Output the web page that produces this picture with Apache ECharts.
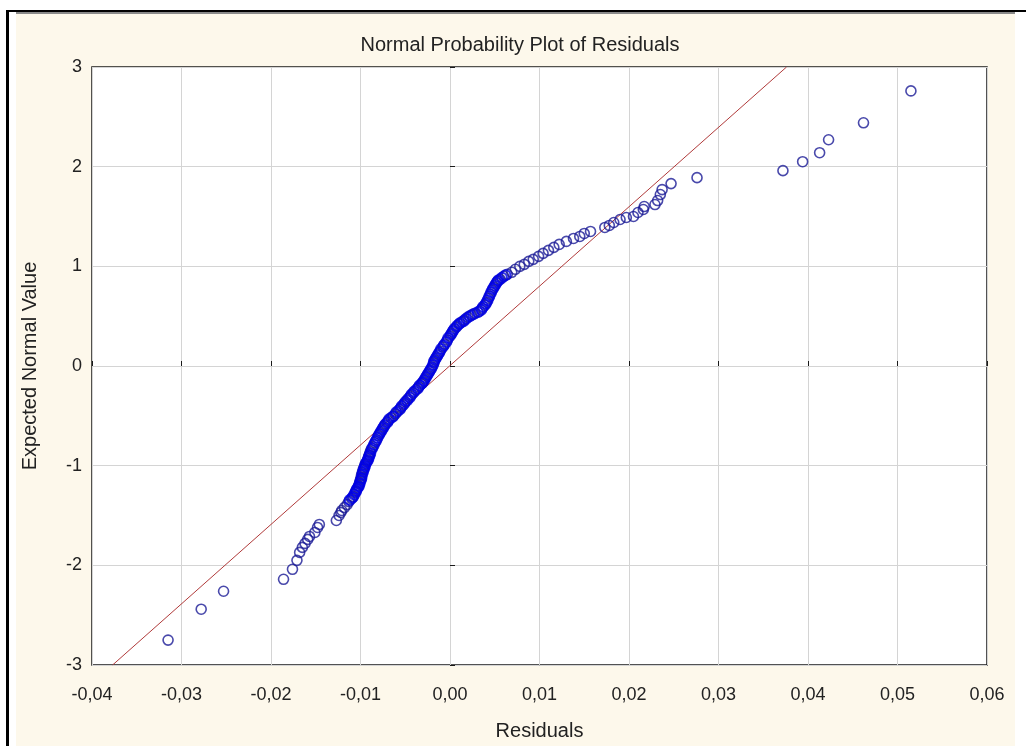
<!DOCTYPE html>
<html>
<head>
<meta charset="utf-8">
<title>Normal Probability Plot of Residuals</title>
<script src="https://cdn.jsdelivr.net/npm/echarts@6/dist/echarts.min.js"></script>
<style>
  html, body { margin: 0; padding: 0; background: #fff; }
  #npp { width: 1026px; height: 746px; }
</style>
</head>
<body>
<div id="npp"></div>
<script>
// [residual, expected normal value]
var probPoints = [
    [-0.0315, -2.75], [-0.0278, -2.44], [-0.0253, -2.26], [-0.0186, -2.14], [-0.0176, -2.04],
    [-0.0171, -1.95], [-0.0168, -1.87], [-0.0165, -1.82], [-0.0162, -1.78], [-0.0159, -1.74],
    [-0.0157, -1.71], [-0.0151, -1.67], [-0.0148, -1.62], [-0.0146, -1.59], [-0.0127, -1.55],
    [-0.0124, -1.50], [-0.0122, -1.47], [-0.0121, -1.45], [-0.0118, -1.42], [-0.0115, -1.39],
    [-0.0113, -1.36], [-0.0110, -1.33], [-0.0108, -1.31], [-0.0106, -1.27], [-0.0105, -1.25],
    [-0.0103, -1.22], [-0.0102, -1.20], [-0.0101, -1.17], [-0.0100, -1.14], [-0.0099, -1.12],
    [-0.0099, -1.10], [-0.0098, -1.07], [-0.0097, -1.04], [-0.0096, -1.02], [-0.0095, -0.99],
    [-0.0093, -0.96], [-0.0092, -0.94], [-0.0091, -0.91], [-0.0090, -0.89], [-0.0089, -0.86],
    [-0.0088, -0.84], [-0.0086, -0.81], [-0.0084, -0.77], [-0.0082, -0.74], [-0.0080, -0.70],
    [-0.0078, -0.67], [-0.0076, -0.64], [-0.0074, -0.61], [-0.0072, -0.58], [-0.0069, -0.55],
    [-0.0066, -0.52], [-0.0063, -0.50], [-0.0061, -0.48], [-0.0058, -0.45], [-0.0055, -0.42],
    [-0.0052, -0.39], [-0.0050, -0.36], [-0.0047, -0.33], [-0.0044, -0.30], [-0.0041, -0.27],
    [-0.0038, -0.24], [-0.0035, -0.21], [-0.0032, -0.18], [-0.0030, -0.16], [-0.0028, -0.13],
    [-0.0026, -0.10], [-0.0024, -0.07], [-0.0022, -0.04], [-0.0020, -0.01], [-0.0018, 0.03],
    [-0.0017, 0.06], [-0.0015, 0.09], [-0.0013, 0.12], [-0.0011, 0.15], [-0.0008, 0.19],
    [-0.0006, 0.22], [-0.0003, 0.26], [0.0000, 0.30], [0.0002, 0.33], [0.0004, 0.36],
    [0.0007, 0.39], [0.0010, 0.42], [0.0013, 0.44], [0.0016, 0.46], [0.0020, 0.49],
    [0.0024, 0.51], [0.0028, 0.53], [0.0033, 0.55], [0.0036, 0.58], [0.0039, 0.61],
    [0.0041, 0.64], [0.0043, 0.68], [0.0045, 0.72], [0.0047, 0.76], [0.0049, 0.79],
    [0.0051, 0.82], [0.0053, 0.85], [0.0056, 0.87], [0.0060, 0.90], [0.0064, 0.92],
    [0.0069, 0.94], [0.0073, 0.97], [0.0078, 1.00], [0.0083, 1.02], [0.0088, 1.05],
    [0.0093, 1.07], [0.0099, 1.10], [0.0104, 1.13], [0.0110, 1.16], [0.0116, 1.19],
    [0.0122, 1.22], [0.0130, 1.25], [0.0138, 1.28], [0.0145, 1.30], [0.0150, 1.33],
    [0.0157, 1.35], [0.0173, 1.39], [0.0178, 1.41], [0.0183, 1.44], [0.0190, 1.47],
    [0.0197, 1.49], [0.0205, 1.50], [0.0210, 1.54], [0.0216, 1.57], [0.0217, 1.60],
    [0.0229, 1.62], [0.0232, 1.66], [0.0235, 1.72], [0.0237, 1.77], [0.0247, 1.83],
    [0.0276, 1.89], [0.0372, 1.96], [0.0394, 2.05], [0.0413, 2.14], [0.0423, 2.27],
    [0.0462, 2.44], [0.0515, 2.76]
];

// more points inside the solid part of the band
var bandPoints = [
    [-0.0112, -1.345], [-0.0109, -1.32], [-0.0107, -1.29], [-0.0105, -1.26], [-0.0104, -1.235],
    [-0.0102, -1.21], [-0.0101, -1.185], [-0.0100, -1.155], [-0.0099, -1.13], [-0.0098, -1.085],
    [-0.0097, -1.055], [-0.0096, -1.03], [-0.0095, -1.005], [-0.0094, -0.975], [-0.0092, -0.95],
    [-0.0091, -0.925], [-0.0090, -0.90], [-0.0089, -0.875], [-0.0087, -0.825], [-0.0085, -0.79],
    [-0.0083, -0.755], [-0.0081, -0.72], [-0.0079, -0.685], [-0.0077, -0.655], [-0.0075, -0.625],
    [-0.0073, -0.595], [-0.0070, -0.565], [-0.0068, -0.535], [-0.0064, -0.51], [-0.0060, -0.465],
    [-0.0056, -0.435], [-0.0054, -0.405], [-0.0051, -0.375], [-0.0048, -0.345], [-0.0045, -0.315],
    [-0.0043, -0.285], [-0.0040, -0.255], [-0.0036, -0.225], [-0.0034, -0.195], [-0.0031, -0.17],
    [-0.0029, -0.145], [-0.0027, -0.115], [-0.0025, -0.085], [-0.0023, -0.055], [-0.0021, -0.025],
    [-0.0019, 0.01], [-0.0018, 0.045], [-0.0016, 0.075], [-0.0014, 0.105], [-0.0012, 0.135],
    [-0.0010, 0.17], [-0.0007, 0.205], [-0.0004, 0.24], [-0.0002, 0.28], [0.0001, 0.315],
    [0.0003, 0.345], [0.0005, 0.375], [0.0008, 0.405], [0.0011, 0.43], [0.0015, 0.45],
    [0.0018, 0.475], [0.0022, 0.50], [0.0026, 0.52], [0.0031, 0.54], [0.0035, 0.565],
    [0.0037, 0.595], [0.0040, 0.625], [0.0042, 0.66], [0.0044, 0.70], [0.0046, 0.74],
    [0.0048, 0.775], [0.0050, 0.805], [0.0052, 0.835], [0.0054, 0.86], [0.0058, 0.885],
    [0.0062, 0.91]
];

// reference line end points
var refLine = [[-0.0377, -3], [0.0376, 3]];

var xTicks = { min: -0.04, max: 0.06, step: 0.01 };
var yTicks = { min: -3, max: 3, step: 1 };

var labelFont = 'Liberation Sans, Arial, sans-serif';

var chart = echarts.init(document.getElementById('npp'), null, {renderer: 'canvas'});

chart.setOption({
    backgroundColor: '#ffffff',
    animation: false,
    graphic: [
        { type: 'rect', z: -100, shape: {x: 16, y: 14, width: 999, height: 732}, style: {fill: '#fdf8eb'} },
        { type: 'rect', z: -90, shape: {x: 16, y: 12, width: 999, height: 2}, style: {fill: '#8a8a8a'} },
        { type: 'rect', z: -90, shape: {x: 6, y: 10, width: 1020, height: 2}, style: {fill: '#000'} },
        { type: 'rect', z: -90, shape: {x: 6, y: 10, width: 3, height: 736}, style: {fill: '#000'} }
    ],
    title: {
        text: 'Normal Probability Plot of Residuals',
        left: 515,
        top: 30,
        textAlign: 'center',
        textStyle: { fontFamily: labelFont, fontSize: 20, fontWeight: 'normal', color: '#222' }
    },
    grid: {
        left: 92, right: 39, top: 67, bottom: 73,
        show: true,
        backgroundColor: '#ffffff',
        borderColor: '#1a1a1a',
        borderWidth: 1.5
    },
    xAxis: {
        type: 'value',
        min: xTicks.min, max: xTicks.max, interval: xTicks.step,
        name: 'Residuals',
        nameLocation: 'middle',
        nameGap: 56,
        nameTextStyle: { fontFamily: labelFont, fontSize: 20, color: '#222' },
        axisLine: { show: false },
        axisTick: { inside: true, length: 5, lineStyle: {color: '#1a1a1a'} },
        axisLabel: {
            fontFamily: labelFont, fontSize: 18, color: '#222', margin: 21,
            formatter: function (v) { return v.toFixed(2).replace('.', ','); }
        },
        splitLine: { show: true, lineStyle: { color: '#d4d4d4', width: 1 } }
    },
    yAxis: {
        type: 'value',
        min: yTicks.min, max: yTicks.max, interval: yTicks.step,
        name: 'Expected Normal Value',
        nameLocation: 'middle',
        nameGap: 52,
        nameTextStyle: { fontFamily: labelFont, fontSize: 20, color: '#222' },
        axisLine: { show: false },
        axisTick: { inside: true, length: 5, lineStyle: {color: '#1a1a1a'} },
        axisLabel: { fontFamily: labelFont, fontSize: 18, color: '#222', margin: 10 },
        splitLine: { show: true, lineStyle: { color: '#d4d4d4', width: 1 } }
    },
    series: [
        {
            type: 'line',
            data: refLine,
            symbol: 'none',
            clip: true,
            lineStyle: { color: '#b03a3a', width: 1 },
            z: 2
        },
        {
            type: 'scatter',
            data: probPoints,
            symbol: 'circle',
            symbolSize: 10,
            itemStyle: { color: 'transparent', borderColor: '#1c1c96', borderWidth: 1.6 },
            z: 3
        },
        {
            type: 'scatter',
            data: bandPoints,
            symbol: 'circle',
            symbolSize: 10,
            itemStyle: { color: 'transparent', borderColor: '#0000e6', borderWidth: 2 },
            z: 3
        }
    ]
});
</script>
</body>
</html>
